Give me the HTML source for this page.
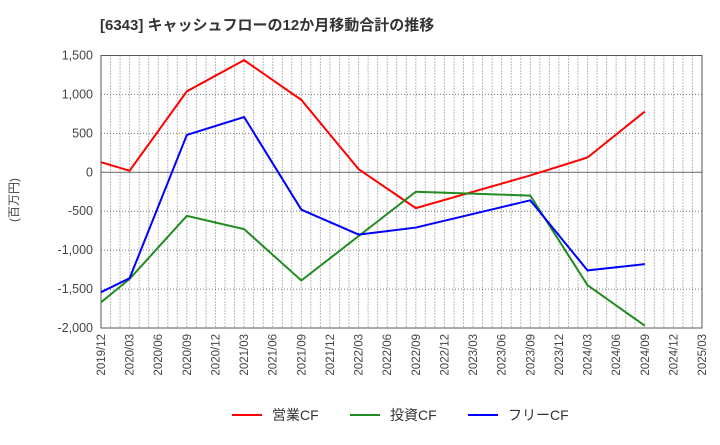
<!DOCTYPE html>
<html><head><meta charset="utf-8"><style>
body{margin:0;background:#fff;font-family:"Liberation Sans","Noto Sans CJK JP",sans-serif;}
</style></head><body>
<svg width="720" height="440" xmlns="http://www.w3.org/2000/svg">
<text x="100" y="30" font-size="15" font-weight="bold" fill="#333" font-family="Liberation Sans, Noto Sans CJK JP, sans-serif">[6343]  キャッシュフローの12か月移動合計の推移</text>
<g id="grid"></g>
<g id="axes"></g>
<g id="series"></g>
<text x="18" y="200" font-size="12" fill="#444" transform="rotate(-90 18 200)" text-anchor="middle">(百万円)</text>
<g>
<line x1="232" y1="415" x2="262" y2="415" stroke="#f00" stroke-width="2"/><text x="272" y="420" font-size="14" fill="#333">営業CF</text>
<line x1="350" y1="415" x2="380" y2="415" stroke="#228b22" stroke-width="2"/><text x="390" y="420" font-size="14" fill="#333">投資CF</text>
<line x1="468" y1="415" x2="498" y2="415" stroke="#00f" stroke-width="2"/><text x="508" y="420" font-size="14" fill="#333">フリーCF</text>
</g>
</svg>
<script>
const xTicks=["2019/12","2020/03","2020/06","2020/09","2020/12","2021/03","2021/06","2021/09","2021/12","2022/03","2022/06","2022/09","2022/12","2023/03","2023/06","2023/09","2023/12","2024/03","2024/06","2024/09","2024/12","2025/03"];
const yTicks=[1500,1000,500,0,-500,-1000,-1500,-2000];
const yLabels=["1,500","1,000","500","0","-500","-1,000","-1,500","-2,000"];
const pointQuarters=[0,1,3,5,7,9,11,15,17,19];
const salesCF=[130,20,1040,1440,930,40,-460,-40,190,780];
const investCF=[-1670,-1370,-560,-730,-1390,-820,-250,-300,-1450,-1970];
const freeCF=[-1540,-1360,480,710,-480,-800,-710,-360,-1260,-1180];
const L=101,R=702,T=55.5,B=328;
const NS="http://www.w3.org/2000/svg";
const xq=q=>L+(R-L)*q/21;
const xm=m=>L+(R-L)*m/63;
const y=v=>T+(1500-v)*(B-T)/3500;
function mk(tag,attrs,parent){const e=document.createElementNS(NS,tag);for(const k in attrs)e.setAttribute(k,attrs[k]);parent.appendChild(e);return e;}
const grid=document.getElementById('grid'),axes=document.getElementById('axes'),series=document.getElementById('series');
for(let m=1;m<63;m++){const l=mk('line',{x1:xm(m),x2:xm(m),y1:T,y2:B,stroke:'#777','stroke-width':1,'stroke-dasharray':'1,2'},grid);

}
yTicks.forEach((v,i)=>{if(v!==0&&v!==-2000){const l=mk('line',{x1:L,x2:R,y1:y(v),y2:y(v),stroke:'#777','stroke-width':1,'stroke-dasharray':'1,2'},grid);

}
const t=mk('text',{x:L-8,y:y(v)+4,'text-anchor':'end','font-size':12.5,fill:'#444'},axes);t.textContent=yLabels[i];

});
const z=mk('line',{x1:L,x2:R,y1:y(0),y2:y(0),stroke:'#666','stroke-width':1},axes);


const fr=mk('rect',{x:L,y:T,width:R-L,height:B-T,fill:'none',stroke:'#555','stroke-width':1},axes);


xTicks.forEach((s,q)=>{const x=xq(q);const t=mk('text',{x:x+4,y:B+6,'text-anchor':'end','font-size':11.5,fill:'#444',transform:`rotate(-90 ${x+4} ${B+6})`},axes);t.textContent=s;

});
[[salesCF,'#f00','sales-cf-line'],[investCF,'#228b22','invest-cf-line'],[freeCF,'#00f','free-cf-line']].forEach(([d,c,n])=>{
const p=mk('polyline',{points:d.map((v,i)=>xq(pointQuarters[i])+','+y(v)).join(' '),fill:'none',stroke:c,'stroke-width':2},series);

});
</script>
</body></html>
